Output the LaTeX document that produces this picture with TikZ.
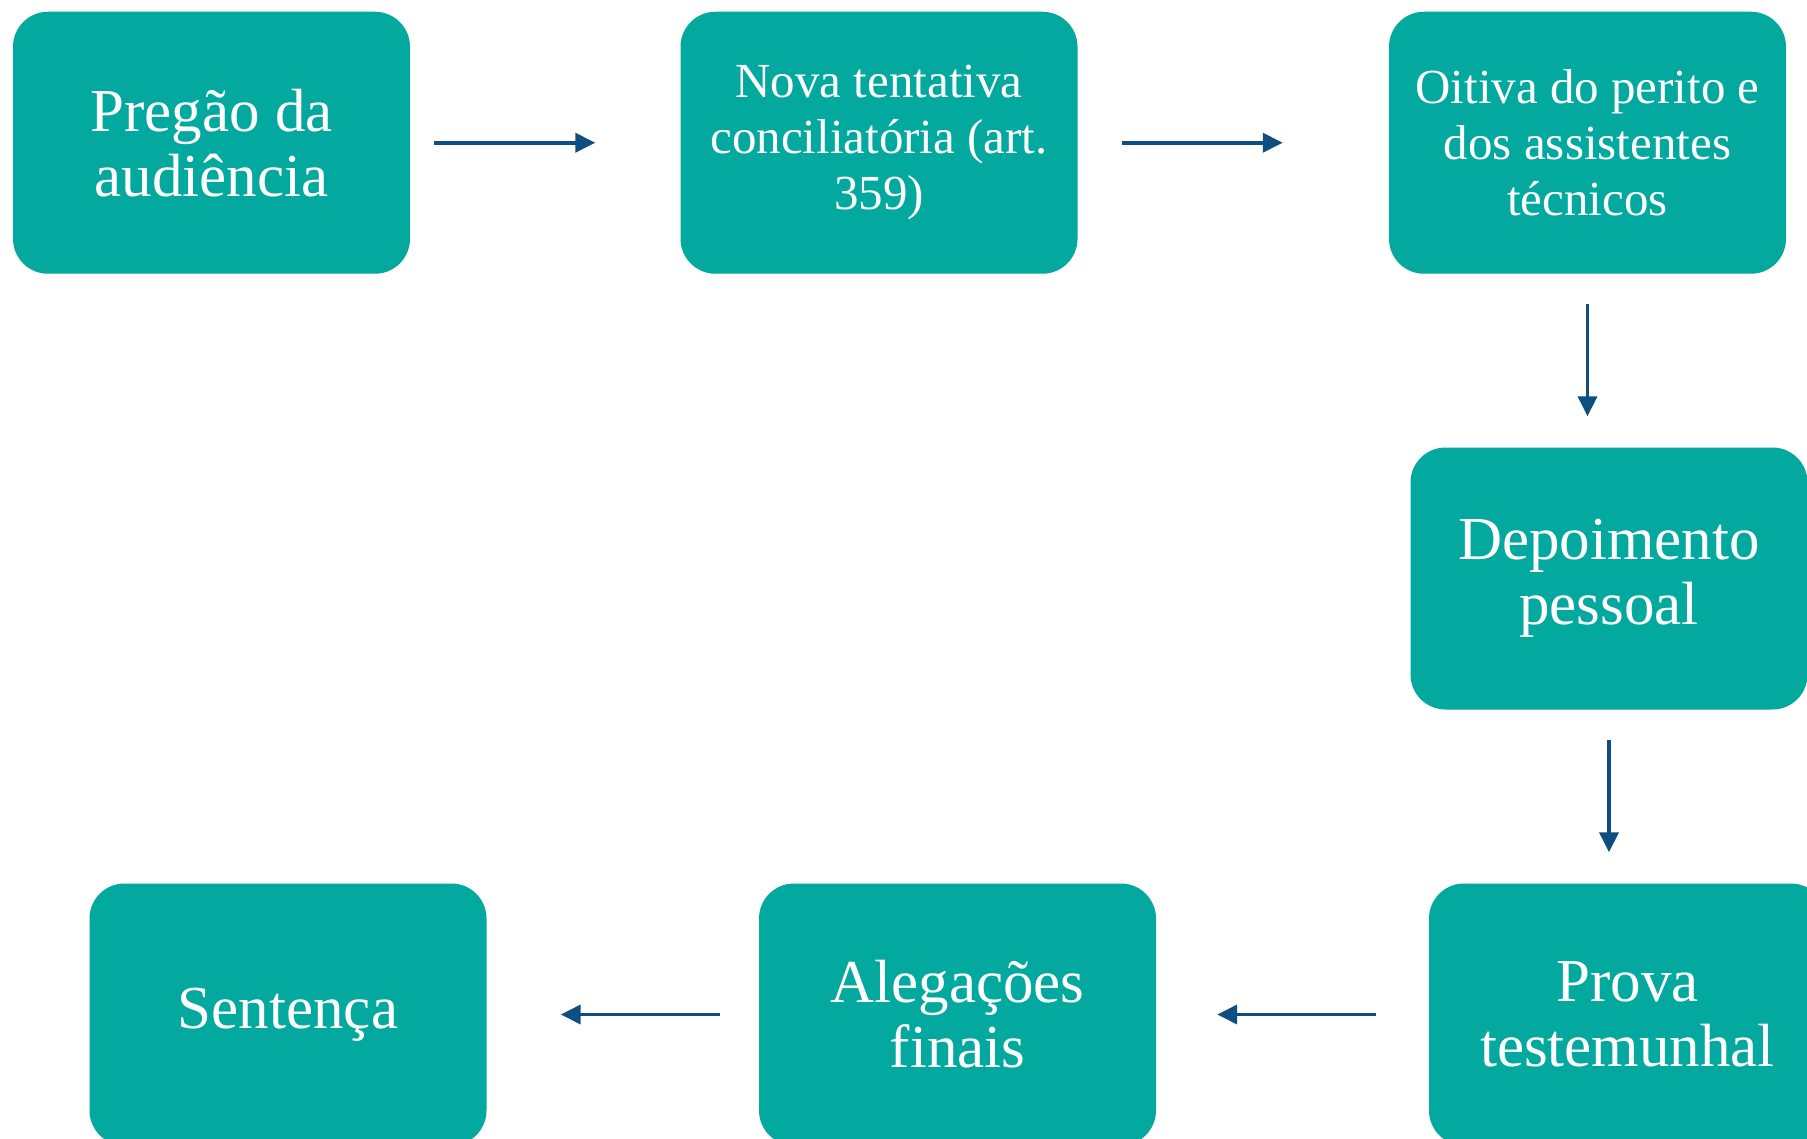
\documentclass[tikz,border=0pt]{standalone}
\usepackage{fontspec}
\setmainfont{Liberation Serif}
\definecolor{StepTeal}{RGB}{3, 168, 158}
\definecolor{FlowBlue}{RGB}{14, 78, 128}
\usepackage{tikz}
\usetikzlibrary{arrows.meta, positioning, calc}

\tikzset{
	stepbox/.style={fill=StepTeal, rounded corners=35pt, text=white, align=center,
		minimum width=397pt, minimum height=262pt, inner sep=0pt},
	bigtext/.style={font=\fontsize{61}{65}\selectfont},
	smalltext/.style={font=\fontsize{49}{56}\selectfont},
	flow/.style={draw=FlowBlue, line width=3.6pt, -{Triangle[length=20pt, width=19pt]}}
}

\begin{document}
\begin{tikzpicture}[x=1pt, y=1pt]
	\path[use as bounding box, clip] (0,0) rectangle (1807,-1139);
	% top row
	\node[stepbox, bigtext] (pregao) at (211.5,-142.75) {Pregão da\\audiência};
	\node[stepbox, smalltext] (nova) at (879,-142.75) {Nova tentativa\\conciliatória (art.\\359)};
	\node[stepbox, smalltext] (oitiva) at (1587.5,-142.75) {Oitiva do perito e\\dos assistentes\\técnicos};
	% right column
	\node[stepbox, bigtext] (depoimento) at (1609,-578.5) {Depoimento\\pessoal};
	\node[stepbox, bigtext] (prova) at (1627.5,-1014.5) {Prova\\testemunhal};
	% bottom row
	\node[stepbox, bigtext] (alegacoes) at (957.5,-1014.5) {Alegações\\finais};
	\node[stepbox, bigtext] (sentenca) at (288,-1014.5) {Sentença};

	\draw[flow, shorten <=24pt, shorten >=85pt] (pregao.east) -- (nova.west);
	\draw[flow, shorten <=44pt, shorten >=106pt] (nova.east) -- (oitiva.west);
	\draw[flow, shorten <=30pt, shorten >=31pt] (oitiva.south) -- (oitiva.south |- depoimento.north);
	\draw[flow, shorten <=30pt, shorten >=31pt] (depoimento.south) -- (depoimento.south |- prova.north);
	\draw[flow, shorten <=53pt, shorten >=61pt] (prova.west) -- (alegacoes.east);
	\draw[flow, shorten <=39pt, shorten >=74pt] (alegacoes.west) -- (sentenca.east);
\end{tikzpicture}
\end{document}
